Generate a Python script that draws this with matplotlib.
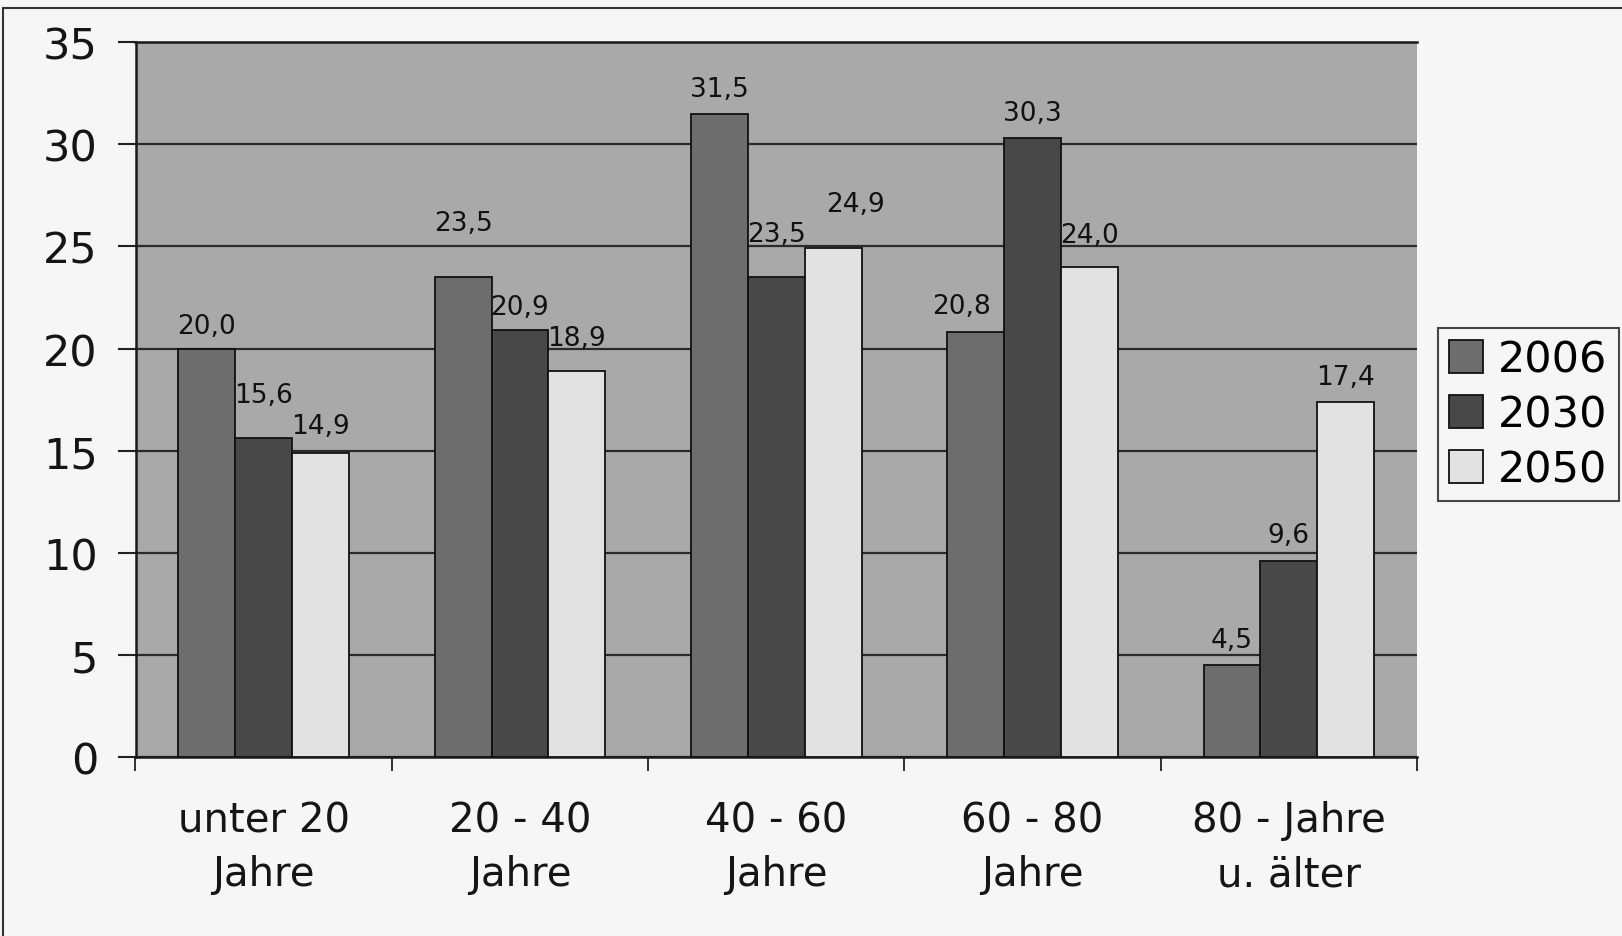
import matplotlib
matplotlib.use("Agg")
import matplotlib.pyplot as plt
import numpy as np
from matplotlib.patches import Rectangle

categories = ["unter 20\nJahre", "20 - 40\nJahre", "40 - 60\nJahre", "60 - 80\nJahre", "80 - Jahre\nu. älter"]
series_names = ["2006", "2030", "2050"]
values_2006 = [20.0, 23.5, 31.5, 20.8, 4.5]
values_2030 = [15.6, 20.9, 23.5, 30.3, 9.6]
values_2050 = [14.9, 18.9, 24.9, 24.0, 17.4]
y_ticks = [0, 5, 10, 15, 20, 25, 30, 35]

colors = ["#6d6d6d", "#484848", "#e2e2e2"]
# label offsets (points) per series / category, mimicking the original placement
label_offsets = [
    [(0, 16), (0, 39), (0, 18), (-10, 19), (0, 18)],
    [(0, 31), (0, 17), (0, 31), (0, 18), (0, 19)],
    [(0, 19), (0, 24), (16, 32), (0, 23), (0, 18)],
]

plt.rcParams['font.family'] = ['DejaVu Sans']

W, H = 1622, 937
fig = plt.figure(figsize=(W / 100, H / 100), dpi=100, facecolor="#f6f6f6")
ax = fig.add_axes([135.5 / W, 1 - 758 / H, (1417 - 135.5) / W, 714.8 / H])
ax.set_facecolor("#a9a9a9")

x = np.arange(len(categories))
bw = 0.222
all_vals = [values_2006, values_2030, values_2050]
for i, (vals, name) in enumerate(zip(all_vals, series_names)):
    pos = x + (i - 1) * bw
    bars = ax.bar(pos, vals, width=bw, color=colors[i], edgecolor="#111111",
                  linewidth=1.3, label=name, zorder=3)
    for j, (b, v) in enumerate(zip(bars, vals)):
        dx, dy = label_offsets[i][j]
        ax.annotate(f"{v:.1f}".replace(".", ","),
                    xy=(b.get_x() + b.get_width() / 2, v),
                    xytext=(dx, dy), textcoords="offset points",
                    ha="center", va="center", fontsize=19, color="#111111", zorder=4)

ax.set_xlim(-0.5, len(categories) - 0.5)
ax.set_ylim(0, 35)
ax.set_yticks(y_ticks)
ax.set_yticklabels([str(t) for t in y_ticks], fontsize=31, color="#151515")
ax.yaxis.grid(True, color="#2a2a2a", linewidth=1.6, zorder=1)
ax.set_axisbelow(True)

ax.set_xticks(x)
ax.set_xticklabels(categories, fontsize=29, color="#151515", linespacing=1.45)
ax.tick_params(axis="x", which="major", length=0, pad=31)
ax.set_xticks(np.arange(-0.5, len(categories)), minor=True)
ax.tick_params(axis="x", which="minor", length=10, width=1.3, color="#222222", direction="out")
ax.tick_params(axis="y", length=13, width=1.5, color="#222222", pad=14)

for side in ["left", "bottom", "top"]:
    ax.spines[side].set_color("#1a1a1a")
    ax.spines[side].set_linewidth(1.8)
ax.spines["right"].set_visible(False)

leg = ax.legend(loc="upper left", bbox_to_anchor=(1438 / W, 1 - 329 / H),
                bbox_transform=fig.transFigure, fontsize=31, frameon=True,
                fancybox=False, handlelength=0.8, handleheight=0.8,
                handletextpad=0.35, labelspacing=0.3, borderpad=0.25,
                borderaxespad=0)
leg.get_frame().set_edgecolor("#1a1a1a")
leg.get_frame().set_linewidth(1.5)
leg.get_frame().set_facecolor("#f6f6f6")

# figure border from the scan
fig.patches.append(Rectangle((3 / W, -0.05), 1.2, 1.05 - 9 / H, transform=fig.transFigure,
                             fill=False, edgecolor="#333333", linewidth=1.5))

fig.savefig("out.png", dpi=100, facecolor=fig.get_facecolor())
